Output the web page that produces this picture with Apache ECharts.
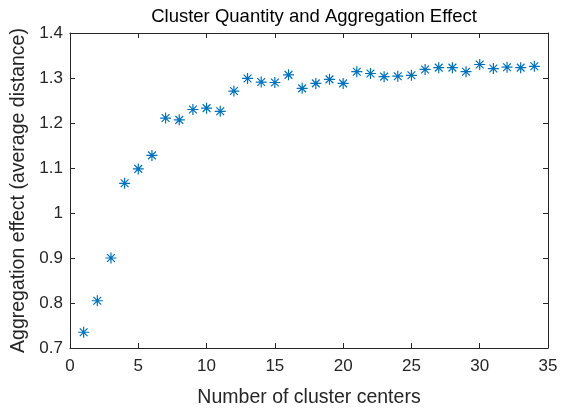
<!DOCTYPE html>
<html>
<head>
<meta charset="utf-8">
<script src="https://cdn.jsdelivr.net/npm/echarts@6/dist/echarts.min.js"></script>
<style>html,body{margin:0;padding:0;background:#fff;}#c{width:561px;height:413px;}</style>
</head>
<body>
<div id="c"></div>
<script>
const clusterCounts = [1,2,3,4,5,6,7,8,9,10,11,12,13,14,15,16,17,18,19,20,21,22,23,24,25,26,27,28,29,30,31,32,33,34];
const effectValues = [0.735,0.805,0.900,1.066,1.098,1.128,1.211,1.207,1.230,1.233,1.226,1.271,1.299,1.291,1.290,1.307,1.277,1.288,1.297,1.288,1.314,1.310,1.303,1.304,1.306,1.319,1.323,1.323,1.314,1.330,1.321,1.324,1.323,1.326];
const titleText = 'Cluster Quantity and Aggregation Effect';
const xName = 'Number of cluster centers';
const yName = 'Aggregation effect (average distance)';

const font = '"Liberation Sans", Arial, Helvetica, sans-serif';
const axisColor = '#262626';
const chart = echarts.init(document.getElementById('c'), null, {renderer: 'canvas'});
const asterisk = 'path://M0,-10 L0,10 M-10,0 L10,0 M-7.07,-7.07 L7.07,7.07 M-7.07,7.07 L7.07,-7.07';
const common = {
  axisLine: {show: true, onZero: false, lineStyle: {color: axisColor, width: 1}},
  axisTick: {show: true, inside: true, length: 5, lineStyle: {color: axisColor}},
  splitLine: {show: false}
};
chart.setOption({
  animation: false,
  backgroundColor: '#fff',
  title: {
    text: titleText, left: 309, top: 2, textAlign: 'center',
    textStyle: {fontFamily: font, fontSize: 18.5, fontWeight: 'normal', color: '#000'}
  },
  grid: {left: 70, right: 13, top: 33, bottom: 61, containLabel: false},
  xAxis: [
    Object.assign({type: 'value', min: 0, max: 35, interval: 5, position: 'bottom',
      name: xName, nameLocation: 'middle', nameGap: 40,
      nameTextStyle: {fontFamily: font, fontSize: 19.5, color: axisColor},
      axisLabel: {fontFamily: font, fontSize: 17, color: axisColor, margin: 10}}, common),
    Object.assign({type: 'value', min: 0, max: 35, interval: 5, position: 'top',
      axisLabel: {show: false}}, common)
  ],
  yAxis: [
    Object.assign({type: 'value', min: 0.7, max: 1.4, interval: 0.1, position: 'left',
      name: yName, nameLocation: 'middle', nameGap: 40,
      nameTextStyle: {fontFamily: font, fontSize: 19.5, color: axisColor},
      axisLabel: {fontFamily: font, fontSize: 17, color: axisColor, margin: 7,
        formatter: v => String(Math.round(v * 10) / 10)}}, common),
    Object.assign({type: 'value', min: 0.7, max: 1.4, interval: 0.1, position: 'right',
      axisLabel: {show: false}}, common)
  ],
  series: [{
    type: 'scatter',
    data: clusterCounts.map((x, i) => [x, effectValues[i]]),
    symbol: asterisk,
    symbolSize: 11,
    itemStyle: {color: 'rgba(0,0,0,0)', borderColor: '#0072BD', borderWidth: 1.2, opacity: 1},
    emphasis: {disabled: true}
  }]
});
</script>
</body>
</html>
